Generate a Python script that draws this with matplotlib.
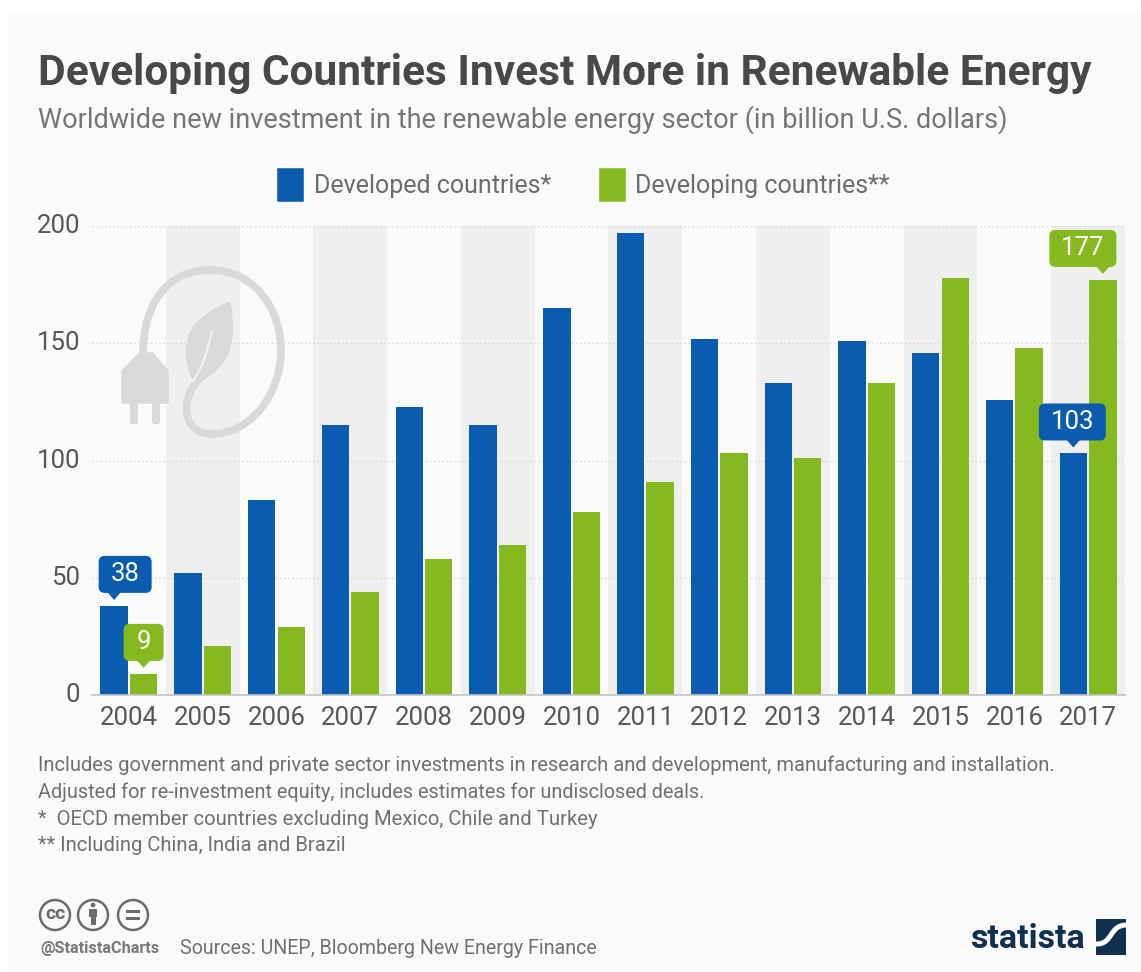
import numpy as np
import matplotlib
matplotlib.use("Agg")
import matplotlib.pyplot as plt
from matplotlib.patches import Patch, PathPatch, Circle, FancyBboxPatch, Polygon, Rectangle
from matplotlib.path import Path
from matplotlib.transforms import Affine2D

years = [2004, 2005, 2006, 2007, 2008, 2009, 2010, 2011, 2012, 2013, 2014, 2015, 2016, 2017]
developed = [38, 52, 83, 115, 123, 115, 165, 197, 152, 133, 151, 146, 126, 103]
developing = [9, 21, 29, 44, 58, 64, 78, 91, 103, 101, 133, 178, 148, 177]
y_ticks = [0, 50, 100, 150, 200]

TITLE = "Developing Countries Invest More in Renewable Energy"
SUBTITLE = "Worldwide new investment in the renewable energy sector (in billion U.S. dollars)"
NOTES = ["Includes government and private sector investments in research and development, manufacturing and installation.",
         "Adjusted for re-investment equity, includes estimates for undisclosed deals.",
         "*  OECD member countries excluding Mexico, Chile and Turkey",
         "** Including China, India and Brazil"]
NOTE_WIDTHS = [1020, 668, 558, 308]

BLUE = "#0a5cb0"
GREEN = "#86b81f"
BG = "#fafafb"
BAND = "#efefef"
GREY = "#6a6c6e"

W, H = 1141, 972
plt.rcParams["font.family"] = ["Roboto", "DejaVu Sans"]
fig = plt.figure(figsize=(W / 100, H / 100), dpi=100, facecolor="white")
rend = fig.canvas.get_renderer()

def fit(t, target):
    t.set_fontsize(t.get_fontsize() * target / t.get_window_extent(rend).width)
    return t

# pixel-space overlay for page furniture
pg = fig.add_axes([0, 0, 1, 1], zorder=0)
pg.set_xlim(0, W); pg.set_ylim(H, 0); pg.axis("off")
pg.add_patch(Rectangle((8, 13), W - 8, H - 13, fc=BG, ec="none"))

# chart axes
x0, x1, ytop, ybot = 92, 1125, 226, 695
ax = fig.add_axes([x0 / W, 1 - ybot / H, (x1 - x0) / W, (ybot - ytop) / H], zorder=1)
ax.patch.set_alpha(0)
x = np.arange(len(years))
ax.set_xlim(-0.5, len(years) - 0.5)
ax.set_ylim(0, 200)
for i in x[1::2]:
    ax.axvspan(i - 0.5, i + 0.5, color=BAND, lw=0, zorder=0)
ax.set_axisbelow(True)
ax.yaxis.grid(True, color="#d2d2d2", lw=1, ls=(0, (1, 2)))
w = 0.37
ax.bar(x - 0.2, developed, w, color=BLUE, zorder=3)
ax.bar(x + 0.2, developing, w, color=GREEN, zorder=3)
for s in ["top", "right", "left"]:
    ax.spines[s].set_visible(False)
ax.spines["bottom"].set_color("#c4c4c8")
ax.spines["bottom"].set_linewidth(1.2)
ax.spines["bottom"].set_zorder(4)
ax.set_xticks(x, [str(y) for y in years])
ax.set_yticks(y_ticks, [str(v) for v in y_ticks])
ax.tick_params(axis="both", length=0, labelsize=18.5, labelcolor="#55575a")
ax.tick_params(axis="x", pad=8)
ax.tick_params(axis="y", pad=8.5)
for t in ax.get_yticklabels():
    t.set_verticalalignment("center")

handles = [Patch(fc=BLUE, ec=BLUE, lw=4, joinstyle="round", label="Developed countries*"),
           Patch(fc=GREEN, ec=GREEN, lw=4, joinstyle="round", label="Developing countries**")]
fig.legend(handles=handles, ncol=2, loc="center", bbox_to_anchor=(585 / W, 1 - 185 / H),
           frameon=False, fontsize=18, labelcolor=GREY, handlelength=0.85, handleheight=1.3,
           handletextpad=0.5, columnspacing=2.03)

def callout(xv, yv, txt, color, wpx, dx=0, hpx=37):
    # rounded label anchored at a data point, sized in pixels
    px, py = ax.transData.transform((xv, yv))
    gap, tip = 6, 7
    base = py + gap + tip
    cx = px + dx
    box = FancyBboxPatch((cx - wpx / 2 + 4, base + 4), wpx - 8, hpx - 8,
                         boxstyle="round,pad=4,rounding_size=6", fc=color, ec="none",
                         transform=None, zorder=6)
    fig.add_artist(box)
    tri = Polygon([(px - 7, base + 1), (px + 7, base + 1), (px, py + gap)], closed=True, fc=color,
                  ec="none", transform=None, zorder=6)
    fig.add_artist(tri)
    fig.text(cx / W, (base + hpx / 2) / H, txt, color="white", fontsize=18.5, ha="center",
             va="center", zorder=7)

callout(x[0] - 0.2, developed[0], "38", BLUE, 53, dx=11)
callout(x[0] + 0.2, developing[0], "9", GREEN, 40)
callout(x[-1] - 0.2, developed[-1], "103", BLUE, 67, dx=-1)
callout(x[-1] + 0.2, developing[-1], "177", GREEN, 67, dx=-20)

# icon: plug and leaf, placed in page pixels but stacked between bands and bars
ICON = "#d9d9d9"
px_tr = Affine2D().scale(1, -1).translate(0, H)
M, C = Path.MOVETO, Path.CURVE4
cord = [(143, 355), (143, 300), (170, 270), (210, 270), (255, 270), (281, 310), (281, 350),
        (281, 395), (250, 434), (212, 434), (190, 434), (183, 415), (188, 398), (192, 385), (200, 378), (208, 372)]
ax.add_patch(PathPatch(Path(cord, [M] + [C] * 15), fc="none", ec=ICON, lw=5.5, capstyle="round",
                       transform=px_tr, zorder=2, clip_on=False))
leaf = [(230, 301), (205, 312), (186, 325), (186, 350), (186, 365), (190, 375), (192, 380),
        (215, 380), (232, 360), (233, 330), (233, 320), (232, 310), (230, 301)]
ax.add_patch(PathPatch(Path(leaf, [M] + [C] * 12), fc=ICON, ec="none", transform=px_tr, zorder=2, clip_on=False))
vein = Path([(212, 330), (207, 355), (200, 372), (192, 382)], [M, C, C, C])
ax.add_patch(PathPatch(vein, fc="none", ec="#f4f4f4", lw=1.5, transform=px_tr, zorder=2.1, clip_on=False))
ax.add_patch(Polygon([(122, 371), (139, 353), (153, 353), (168, 371), (168, 403), (122, 403)], fc=ICON, ec=ICON,
                     lw=1, joinstyle="round", transform=px_tr, zorder=2, clip_on=False))
for cxp in (134, 156):
    ax.add_patch(FancyBboxPatch((cxp - 2, 403), 4, 19, boxstyle="round,pad=2,rounding_size=2", fc=ICON, ec="none",
                                transform=px_tr, zorder=2, clip_on=False))

# headings
fit(pg.text(38, 74, TITLE, fontsize=30, fontweight="bold", color="#46484a", va="center", ha="left"), 1052)
fit(pg.text(38, 120, SUBTITLE, fontsize=19, color="#737577", va="center", ha="left"), 968)

# notes
for yy, s, tw in zip([765, 792, 819, 845], NOTES, NOTE_WIDTHS):
    fit(pg.text(38, yy, s, fontsize=13, color="#6e7072", va="center", ha="left"), tw)

# licence icons
for cx in (55, 93, 133):
    pg.add_patch(Circle((cx, 915), 15, fc="none", ec="#6b6b6b", lw=1.8))
pg.text(55, 914, "cc", fontsize=14, fontweight="bold", color="#6b6b6b", ha="center", va="center")
pg.add_patch(Circle((93, 905), 2.4, fc="#6b6b6b", ec="none"))
pg.add_patch(Rectangle((89, 909), 8, 8, fc="#6b6b6b", ec="none"))
pg.add_patch(Rectangle((90.5, 917), 5, 8, fc="#6b6b6b", ec="none"))
pg.add_patch(Rectangle((126, 910), 14, 2.6, fc="#6b6b6b", ec="none"))
pg.add_patch(Rectangle((126, 917), 14, 2.6, fc="#6b6b6b", ec="none"))
fit(pg.text(40, 948, "@StatistaCharts", fontsize=12, fontweight="bold", color="#77797b", va="center", ha="left"), 120)
fit(pg.text(180, 948, "Sources: UNEP, Bloomberg New Energy Finance", fontsize=14, color="#6e7072", va="center", ha="left"), 420)

# brand
NAVY = "#10304f"
fit(pg.text(970, 939, "statista", fontsize=26, fontweight="bold", color=NAVY, va="center", ha="left"), 115)
pg.add_patch(Rectangle((1096, 919), 30, 36, fc=NAVY, ec="none"))
sw = [(1095, 944), (1114, 945), (1108, 925), (1127, 925)]
pg.add_patch(PathPatch(Path(sw, [M, C, C, C]), fc="none", ec="white", lw=3.6, zorder=3))

fig.savefig("out.png", dpi=100, facecolor="white")
